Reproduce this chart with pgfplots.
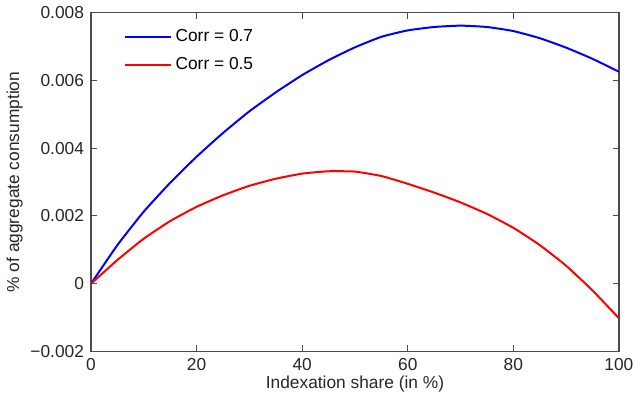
\documentclass[border=0pt]{standalone}
\usepackage{fontspec}
\setmainfont{Liberation Sans}
\usepackage{pgfplots}
\pgfplotsset{compat=1.18}

\begin{document}
\begin{tikzpicture}
\begin{axis}[
  scale only axis,
  width=265pt, height=170pt,
  xmin=0, xmax=100, ymin=-0.002, ymax=0.008,
  xtick={0,20,40,60,80,100},
  ytick={-0.002,0,0.002,0.004,0.006,0.008},
  yticklabels={−0.002,0,0.002,0.004,0.006,0.008},
  scaled y ticks=false,
  /pgf/number format/assume math mode=true,
  tick align=inside,
  tick pos=both,
  major tick length=3pt,
  axis line style={gray!60!black, line width=0.6pt},
  tick style={gray!60!black, line width=0.5pt},
  ticklabel style={font=\fontsize{8.7}{10}\selectfont, text=black!85},
  label style={font=\fontsize{8.7}{10}\selectfont, text=black!85},
  xlabel={Indexation share (in \%)},
  ylabel={\% of aggregate consumption},
  xlabel style={yshift=4pt},
  ylabel style={yshift=-3pt},
  legend style={at={(0.05,0.975)}, anchor=north west, draw=none, fill=none,
    font=\fontsize{8.7}{10}\selectfont, row sep=2.5pt},
  legend cell align=left,
  legend image code/.code={\draw[#1] (0pt,0pt) -- (23pt,0pt);},
]
\addplot[blue, line width=1pt, smooth, tension=0.3] coordinates {
  (0,0) (5,0.00114) (10,0.00213) (15,0.00298) (20,0.00375)
  (25,0.00445) (30,0.00509) (35,0.00565) (40,0.00616) (45,0.00660)
  (50,0.00698) (55,0.00729) (60,0.00748) (65,0.00758) (70,0.00762)
  (75,0.00758) (80,0.00746) (85,0.00725) (90,0.00697) (95,0.00664)
  (100,0.00626)};
\addplot[red, line width=1pt, smooth, tension=0.3] coordinates {
  (0,0) (5,0.00070) (10,0.00133) (15,0.00185) (20,0.00227)
  (25,0.00261) (30,0.00289) (35,0.00310) (40,0.00325) (45,0.00332)
  (50,0.00331) (55,0.00318) (60,0.00295) (65,0.00269) (70,0.00240)
  (75,0.00206) (80,0.00165) (85,0.00114) (90,0.00053) (95,-0.00020)
  (100,-0.00102)};
\legend{Corr = 0.7, Corr = 0.5}
\end{axis}
\end{tikzpicture}
\end{document}
